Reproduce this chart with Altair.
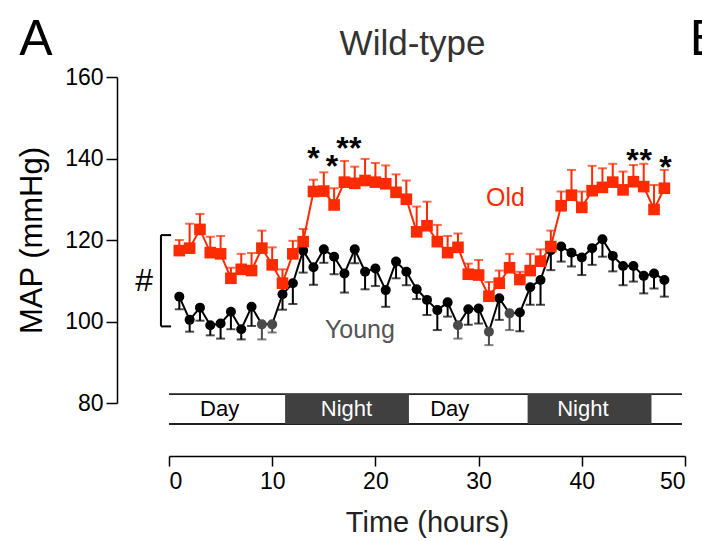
import altair as alt
import pandas as pd

# Hourly mean arterial pressure (mean ± SEM), hours 1-48
hours = list(range(1, 49))
old_map = [117.4, 118.0, 122.6, 116.9, 116.6, 110.6, 112.8, 112.5, 118.0, 113.9,
           109.4, 116.6, 119.6, 131.9, 132.0, 128.6, 134.2, 133.9, 134.6, 134.2,
           133.8, 131.7, 130.0, 122.0, 123.5, 119.6, 116.9, 118.2, 111.6, 111.4,
           106.2, 109.4, 113.2, 110.3, 112.5, 114.8, 118.4, 128.4, 131.0, 128.0,
           132.1, 132.9, 134.2, 132.3, 134.3, 133.1, 127.5, 132.7]
old_sem = [2.6, 6.0, 3.8, 3.9, 4.4, 2.6, 3.8, 4.3, 4.3, 4.3,
           3.4, 3.2, 3.1, 2.9, 4.6, 4.1, 5.2, 4.1, 5.3, 4.7,
           4.5, 4.4, 4.6, 6.2, 5.9, 4.1, 4.1, 3.4, 2.6, 3.7,
           3.5, 3.1, 3.4, 1.9, 4.1, 2.9, 3.9, 3.5, 6.2, 3.9,
           6.1, 4.7, 4.5, 4.5, 4.1, 5.6, 6.0, 4.5]
young_map = [106.1, 100.4, 103.4, 99.1, 99.5, 102.4, 98.1, 103.6, 99.3, 99.3,
             106.7, 109.4, 117.4, 113.3, 117.7, 115.9, 111.8, 117.7, 112.2, 113.0,
             107.7, 114.7, 112.2, 107.9, 105.3, 102.8, 104.7, 99.1, 103.0, 103.2,
             97.5, 105.7, 102.0, 102.2, 108.4, 110.2, 117.5, 118.4, 116.9, 115.7,
             118.0, 120.2, 116.1, 113.6, 113.6, 111.2, 111.8, 110.2]
young_sem = [3.1, 2.9, 3.2, 2.5, 3.7, 4.3, 2.5, 4.7, 3.7, 2.0,
             3.8, 5.1, 5.4, 4.3, 3.3, 4.3, 4.7, 3.4, 4.3, 4.3,
             4.1, 4.1, 3.3, 2.4, 3.7, 4.9, 3.5, 3.3, 3.8, 3.7,
             3.3, 5.3, 4.1, 4.6, 4.3, 6.1, 4.9, 3.7, 3.4, 4.3,
             4.1, 4.3, 3.8, 4.7, 3.8, 4.3, 3.7, 4.1]
young_grey_hours = [9, 10, 28, 31, 33]

# Light/dark cycle
cycle_start, cycle_end = 0, 49.7
night_start = [11.25, 34.75]
night_end = [23.25, 46.75]
phase_names = ["Day", "Night", "Day", "Night"]
phase_label_hours = [4.9, 17.2, 27.2, 40.1]
cycle_top, cycle_bottom, cycle_mid = 82.2, 74.85, 78.5

# Significance marks (hour, height in mmHg)
star_hours = [14.0, 15.8, 16.8, 18.05, 44.9, 46.2, 48.1]
star_levels = [142.1, 140.1, 144.6, 144.6, 141.7, 141.7, 139.8]

# Age-group bracket
bracket_low, bracket_high = 98.8, 121.2
bracket_x, bracket_tip = -0.78, 0.2

RED = "#ff2a00"
GREY = "#4a4a4a"
FONT = "Liberation Sans"

old = pd.DataFrame({"hour": hours, "map": old_map,
                    "top": [m + s for m, s in zip(old_map, old_sem)]})
young = pd.DataFrame({"hour": hours, "map": young_map,
                      "low": [m - s for m, s in zip(young_map, young_sem)],
                      "tone": ["grey" if h in young_grey_hours else "black" for h in hours]})
nights = pd.DataFrame({"start": night_start, "end": night_end})
phases = pd.DataFrame({"hour": phase_label_hours, "name": phase_names,
                       "colour": ["black", "white", "black", "white"]})
stars = pd.DataFrame({"hour": star_hours, "level": star_levels})

xs = alt.Scale(domain=[0, 50], nice=False, zero=False)
ys = alt.Scale(domain=[80, 160], nice=False, zero=False)
x_axis = alt.Axis(values=[0, 10, 20, 30, 40, 50], offset=53, grid=False,
                  domainColor="black", domainWidth=1.5, tickColor="black",
                  tickWidth=1.5, tickSize=10, labelFontSize=23, labelColor="black",
                  labelFont=FONT, labelPadding=4, titleFont=FONT, titleFontSize=29,
                  titleFontWeight="normal", titleColor="#222", titlePadding=15)
y_axis = alt.Axis(values=[80, 100, 120, 140, 160], offset=52, grid=False,
                  domainColor="black", domainWidth=1.5, tickColor="black",
                  tickWidth=1.5, tickSize=11, labelFontSize=23, labelColor="black",
                  labelFont=FONT, labelPadding=3, titleFont=FONT, titleFontSize=31,
                  titleFontWeight="normal", titleColor="black", titlePadding=16)


def X(field):
    return alt.X(field, type="quantitative", scale=xs, axis=x_axis, title="Time (hours)")


def Y(field):
    return alt.Y(field, type="quantitative", scale=ys, axis=y_axis, title="MAP (mmHg)")


tone_colour = alt.Color("tone:N", scale=alt.Scale(domain=["black", "grey"], range=["black", GREY]),
                        legend=None)

# Light/dark bar below the curves
cycle_lines = alt.Chart(pd.DataFrame({"level": [cycle_top, cycle_bottom]})).mark_rule(
    color="#222", strokeWidth=1.8
).encode(x=alt.datum(cycle_start, scale=xs), x2=alt.datum(cycle_end), y=Y("level"))
night_rects = alt.Chart(nights).mark_rect(color="#404040").encode(
    x=X("start"), x2="end", y=alt.datum(cycle_top, scale=ys), y2=alt.datum(cycle_bottom)
)
phase_text = alt.Chart(phases).mark_text(font=FONT, fontSize=22, baseline="middle").encode(
    x=X("hour"), y=alt.datum(cycle_mid, scale=ys), text="name",
    color=alt.Color("colour:N", scale=None)
)

# Error bars: SEM above for old, below for young
old_err = alt.Chart(old).mark_rule(color=RED, strokeWidth=2).encode(
    x=X("hour"), y=Y("map"), y2="top")
old_cap = alt.Chart(old).mark_tick(color=RED, orient="horizontal", size=9, thickness=2).encode(
    x=X("hour"), y=Y("top"))
young_err = alt.Chart(young).mark_rule(strokeWidth=2).encode(
    x=X("hour"), y=Y("map"), y2="low", color=tone_colour)
young_cap = alt.Chart(young).mark_tick(orient="horizontal", size=9, thickness=2).encode(
    x=X("hour"), y=Y("low"), color=tone_colour)

# Curves and markers
young_line = alt.Chart(young).mark_line(color="black", strokeWidth=2).encode(x=X("hour"), y=Y("map"))
young_pts = alt.Chart(young).mark_circle(size=100, opacity=1).encode(
    x=X("hour"), y=Y("map"), color=tone_colour)
old_line = alt.Chart(old).mark_line(color=RED, strokeWidth=2).encode(x=X("hour"), y=Y("map"))
old_pts = alt.Chart(old).mark_square(size=135, color=RED, opacity=1).encode(x=X("hour"), y=Y("map"))

# Annotations
star_text = alt.Chart(stars).mark_text(text="*", font=FONT, fontSize=32, fontWeight="bold",
                                       baseline="alphabetic", dy=19, color="black").encode(
    x=X("hour"), y=Y("level"))
bracket_v = alt.Chart(pd.DataFrame({"a": [bracket_low], "b": [bracket_high]})).mark_rule(
    color="black", strokeWidth=2).encode(x=alt.datum(bracket_x, scale=xs), y=Y("a"), y2="b")
bracket_h = alt.Chart(pd.DataFrame({"level": [bracket_low, bracket_high]})).mark_rule(
    color="black", strokeWidth=2).encode(x=alt.datum(bracket_x, scale=xs), x2=alt.datum(bracket_tip), y=Y("level"))
labels = pd.DataFrame({
    "hour": [-2.4, 32.6, 18.5],
    "level": [110.0, 130.3, 97.9],
    "label": ["#", "Old", "Young"],
    "colour": ["black", RED, "#555555"],
    "size": [32, 25, 25],
})
label_text = alt.Chart(labels).mark_text(font=FONT, baseline="middle").encode(
    x=X("hour"), y=Y("level"), text="label",
    color=alt.Color("colour:N", scale=None), size=alt.Size("size:Q", scale=None))

# Panel letters and panel title
panel_a = alt.Chart(pd.DataFrame({"hour": [-12.9], "level": [165.3], "label": ["A"]})).mark_text(
    font=FONT, fontSize=50, baseline="alphabetic", align="center", color="black").encode(
    x=X("hour"), y=Y("level"), text="label")
panel_b = alt.Chart(pd.DataFrame({"hour": [50.45], "level": [165.3], "label": ["B"]})).mark_text(
    font=FONT, fontSize=50, baseline="alphabetic", align="left", color="black").encode(
    x=X("hour"), y=Y("level"), text="label")
panel_title = alt.Chart(pd.DataFrame({"hour": [23.6], "level": [165.4], "label": ["Wild-type"]})).mark_text(
    font=FONT, fontSize=35, baseline="alphabetic", align="center", color="#333").encode(
    x=X("hour"), y=Y("level"), text="label")

chart = alt.layer(
    cycle_lines, night_rects, phase_text,
    old_err, old_cap, young_err, young_cap,
    young_line, old_line, young_pts, old_pts,
    star_text, bracket_v, bracket_h, label_text, panel_a, panel_b, panel_title,
).properties(
    width=516, height=326,
    background="white",
    autosize=alt.AutoSizeParams(type="none"),
    padding={"left": 169, "top": 77, "right": 17, "bottom": 138},
).configure_view(stroke=None, strokeWidth=0)

chart.save("out.html", embed_options={"renderer": "svg", "actions": False})
